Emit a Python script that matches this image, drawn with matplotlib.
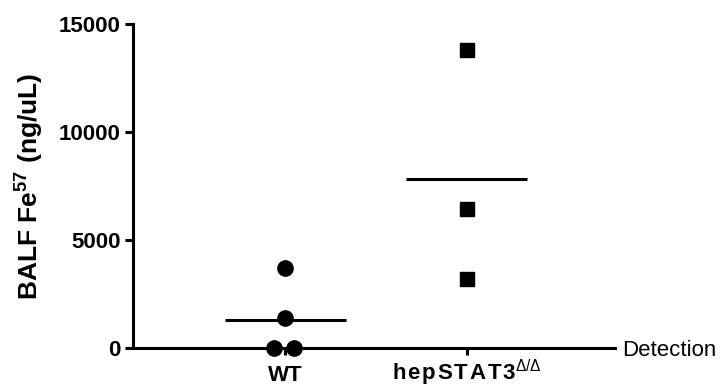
import matplotlib
matplotlib.use("Agg")
import matplotlib.pyplot as plt

plt.rcParams['font.family'] = ['Liberation Sans', 'DejaVu Sans']
plt.rcParams['mathtext.fontset'] = 'custom'
plt.rcParams['mathtext.rm'] = 'Liberation Sans'
plt.rcParams['mathtext.bf'] = 'Liberation Sans:bold'

HS = '\u200a'
categories = ['WT', HS.join('hepSTAT3') + '$^{\\Delta/\\Delta}$']
wt_values = [3700, 1400, 0, 0]
wt_offsets = [0.0, 0.0, -0.065, 0.05]
hep_values = [13800, 6450, 3200]
hep_offsets = [0.0, 0.0, 0.0]
y_ticks = [0, 5000, 10000, 15000]

fig = plt.figure(figsize=(7.2, 3.88), dpi=100)
ax = fig.add_axes([133/720, 1-348/388, (615-133)/720, (348-24)/388])

wt_x = [1 + o for o in wt_offsets]
hep_x = [2 + o for o in hep_offsets]
ax.plot(wt_x, wt_values, 'o', color='black', markersize=11, clip_on=False, zorder=3)
ax.plot(hep_x, hep_values, 's', color='black', markersize=9.5, clip_on=False, zorder=3)

wt_mean = sum(wt_values) / len(wt_values)
hep_mean = sum(hep_values) / len(hep_values)
hw = 0.334
ax.plot([1-hw, 1+hw], [wt_mean, wt_mean], color='black', lw=2.2, solid_capstyle='butt')
ax.plot([2-hw, 2+hw], [hep_mean, hep_mean], color='black', lw=2.2, solid_capstyle='butt')

ax.set_xlim(1 - 152/181, 2 + 148/181)
ax.set_ylim(0, 15000)
ax.set_yticks(y_ticks)
ax.set_yticklabels([str(t) for t in y_ticks], fontsize=16, fontweight='bold')
ax.set_xticks([1, 2])
ax.set_xticklabels(categories, fontsize=16, fontweight='bold')
for lbl in ax.get_xticklabels():
    lbl.set_verticalalignment('baseline')
for s in ['top', 'right']:
    ax.spines[s].set_visible(False)
for s in ['left', 'bottom']:
    ax.spines[s].set_linewidth(2.2)
ax.tick_params(axis='both', width=2.2, length=6, direction='out', pad=3)
ax.tick_params(axis='x', length=5, pad=18.5)
ax.set_ylabel('BALF Fe$^{\\mathbf{57}}$ (ng/uL)', fontsize=19, fontweight='bold', labelpad=10)
ax.annotate('Detection', xy=(1.0, 0), xycoords='axes fraction',
            xytext=(5, -5.4), textcoords='offset points',
            fontsize=16, va='baseline', ha='left')

fig.savefig('out.png', dpi=100)
